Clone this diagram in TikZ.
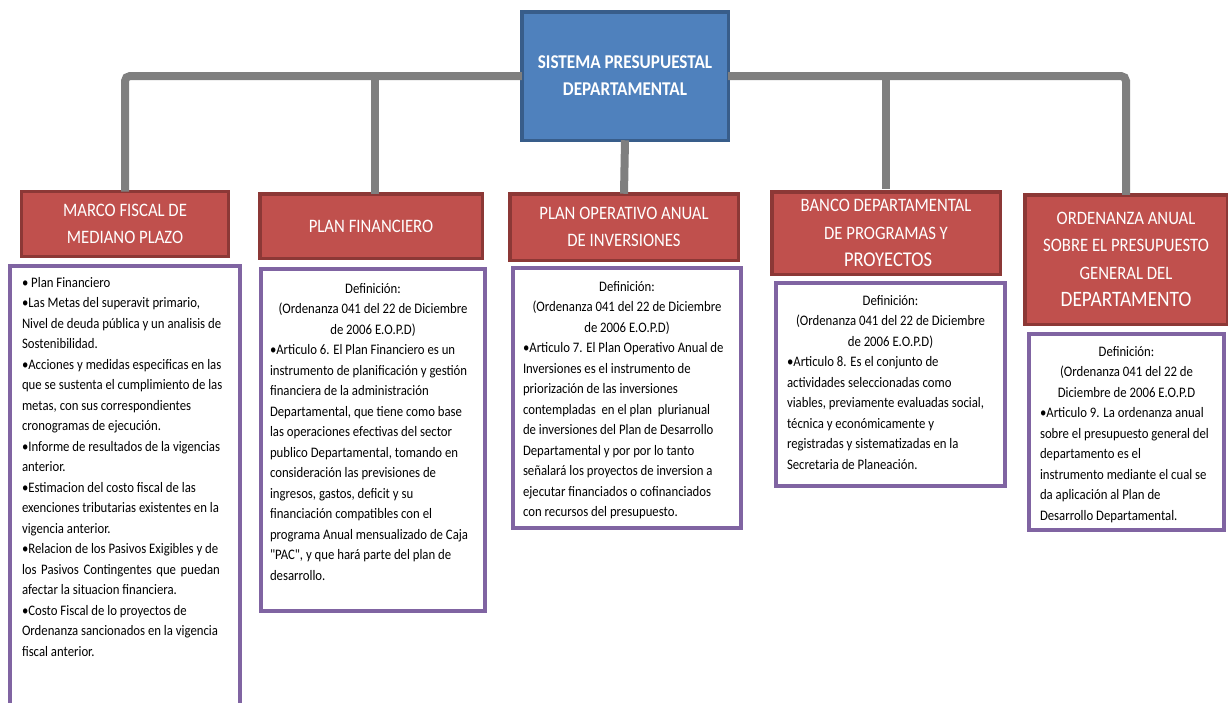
\documentclass[tikz,border=0pt]{standalone}
\usepackage{fontspec}
\setmainfont{Carlito}[FakeStretch=0.88]
\newfontfamily\plainquote{Carlito}[FakeStretch=0.88, Ligatures=TeXOff]
\definecolor{linegray}{HTML}{7F7F7F}
\definecolor{bluefill}{HTML}{4F81BD}
\definecolor{bluedark}{HTML}{385D8A}
\definecolor{redfill}{HTML}{C0504D}
\definecolor{reddark}{HTML}{8C3836}
\definecolor{purp}{HTML}{8064A2}
\begin{document}
\begin{tikzpicture}[x=1pt,y=-1pt,
  conn/.style={draw=linegray, line width=8pt},
  head/.style={draw=reddark, fill=redfill, line width=3.5pt, text=white, align=center,
    font=\fontsize{19}{27.5}\selectfont, inner sep=0pt, outer sep=0pt},
  title/.style={draw=bluedark, fill=bluefill, line width=3.5pt, text=white, align=center,
    font=\bfseries\fontsize{19.5}{27}\selectfont, inner sep=0pt, outer sep=0pt},
  frame/.style={draw=purp, line width=4pt, fill=white, inner sep=0pt, outer sep=0pt, anchor=north west},
  body/.style={align=left, anchor=base west, inner sep=0pt, outer sep=0pt,
    font=\fontsize{14.5}{20.5}\selectfont, text=black}
]
\useasboundingbox (0,0) rectangle (1228,702);
\clip (0,0) rectangle (1228,702);

% central box
\node[title, minimum width=206.5pt, minimum height=128.5pt] (top) at (625,76)
  {SISTEMA PRESUPUESTAL\\DEPARTAMENTAL};

% red heading boxes
\node[head, minimum width=207pt, minimum height=65pt] (r1) at (125,224)
  {MARCO FISCAL DE\\MEDIANO PLAZO};
\node[head, minimum width=222.5pt, minimum height=64.5pt] (r2) at (371,226)
  {PLAN FINANCIERO};
\node[head, minimum width=228.5pt, minimum height=66.5pt] (r3) at (624,227)
  {PLAN OPERATIVO ANUAL\\DE INVERSIONES};
\node[head, minimum width=228.5pt, minimum height=82.5pt] (r4) at (886,233)
  {BANCO DEPARTAMENTAL\\DE PROGRAMAS Y\\{\fontsize{21}{28}\selectfont\ PROYECTOS}};
\node[head, minimum width=202.5pt, minimum height=129.5pt] (r5) at (1126,259.5)
  {ORDENANZA ANUAL\\SOBRE EL PRESUPUESTO\\GENERAL DEL\\{\fontsize{22}{28}\selectfont DEPARTAMENTO}};

% connectors
\draw[conn, rounded corners=5pt] (top.west) -| (r1.north);
\draw[conn] (top.west) -| ([xshift=4pt]r2.north);
\draw[conn] (top.south) -- (r3.north);
\draw[conn] (top.east) -| ([yshift=3pt]r4.north);
\draw[conn, rounded corners=5pt] (top.east) -| (r5.north);

% purple frames
\node[frame, minimum width=230pt, minimum height=454pt] (p1) at (10,266) {};
\node[frame, minimum width=224pt, minimum height=342pt] (p2) at (261,269) {};
\node[frame, minimum width=228pt, minimum height=260pt] (p3) at (513,268) {};
\node[frame, minimum width=229pt, minimum height=203pt] (p4) at (776,283) {};
\node[frame, minimum width=195pt, minimum height=196pt] (p5) at (1029,334) {};

% texts (anchored at the baseline of their last line)
\node[body] (t1) at (22,656) {%
• Plan Financiero\\
•Las Metas del superavit primario,\\
Nivel de deuda pública y un analisis de\\
Sostenibilidad.\\
•Acciones y medidas especificas en las\\
que se sustenta el cumplimiento de las\\
metas, con sus correspondientes\\
cronogramas de ejecución.\\
•Informe de resultados de la vigencias\\
anterior.\\
•Estimacion del costo fiscal de las\\
exenciones tributarias existentes en la\\
vigencia anterior.\\
•Relacion de los Pasivos Exigibles y de\\
\makebox[198pt][s]{los Pasivos Contingentes que puedan}\\
afectar la situacion financiera.\\
•Costo Fiscal de lo proyectos de\\
Ordenanza sancionados en la vigencia\\
fiscal anterior.};

\node[body] (t2) at (270,580) {%
\makebox[206pt]{Definición:}\\
\makebox[206pt]{(Ordenanza 041 del 22 de Diciembre}\\
\makebox[206pt]{de 2006 E.O.P.D)}\\
•Articulo 6. El Plan Financiero es un\\
instrumento de planificación y gestión\\
financiera de la administración\\
Departamental, que tiene como base\\
las operaciones efectivas del sector\\
publico Departamental, tomando en\\
consideración las previsiones de\\
ingresos, gastos, deficit y su\\
financiación compatibles con el\\
programa Anual mensualizado de Caja\\
{\plainquote "PAC"}, y que hará parte del plan de\\
desarrollo.};

\node[body] (t3) at (523,516.5) {%
\makebox[208pt]{Definición:}\\
\makebox[208pt]{(Ordenanza 041 del 22 de Diciembre}\\
\makebox[208pt]{de 2006 E.O.P.D)}\\
•Articulo 7. El Plan Operativo Anual de\\
Inversiones es el instrumento de\\
priorización de las inversiones\\
contempladas\ \ en el plan\ \ plurianual\\
de inversiones del Plan de Desarrollo\\
Departamental y por por lo tanto\\
señalará los proyectos de inversion a\\
ejecutar financiados o cofinanciados\\
con recursos del presupuesto.};

\node[body] (t4) at (787,469) {%
\makebox[207pt]{Definición:}\\
\makebox[207pt]{(Ordenanza 041 del 22 de Diciembre}\\
\makebox[207pt]{de 2006 E.O.P.D)}\\
•Articulo 8. Es el conjunto de\\
actividades seleccionadas como\\
viables, previamente evaluadas social,\\
técnica y económicamente y\\
registradas y sistematizadas en la\\
Secretaria de Planeación.};

\node[body] (t5) at (1040,520) {%
\makebox[173pt]{Definición:}\\
\makebox[173pt]{(Ordenanza 041 del 22 de}\\
\makebox[173pt]{Diciembre de 2006 E.O.P.D}\\
•Articulo 9. La ordenanza anual\\
sobre el presupuesto general del\\
departamento es el\\
instrumento mediante el cual se\\
da aplicación al Plan de\\
Desarrollo Departamental.};
\end{tikzpicture}
\end{document}
